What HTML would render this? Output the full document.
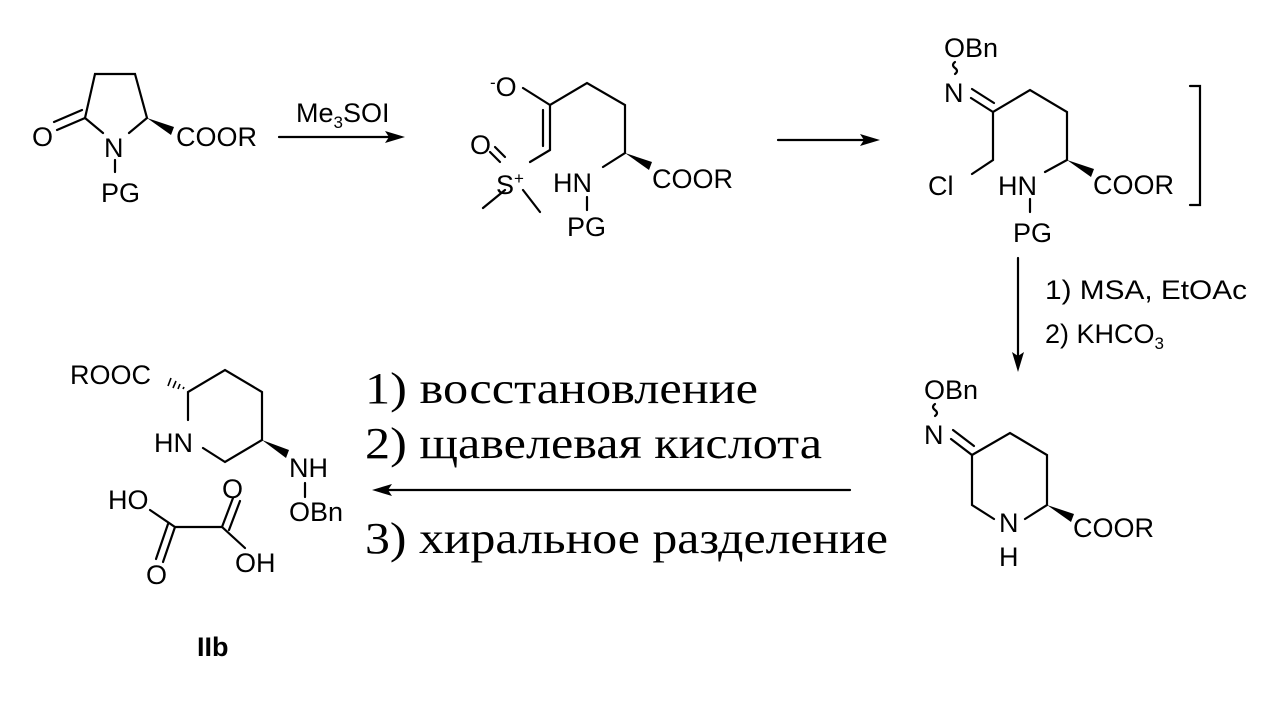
<!DOCTYPE html>
<html><head><meta charset="utf-8"><style>
html,body{margin:0;padding:0;background:#fff;}
svg{display:block;}
text{font-family:"Liberation Sans",sans-serif;font-size:27px;fill:#000;}
.s{font-family:"Liberation Serif",serif;font-size:44px;}
</style></head><body>
<svg width="1288" height="703" viewBox="0 0 1288 703" xmlns="http://www.w3.org/2000/svg">
<g stroke="#000" stroke-width="2.2" fill="none" stroke-linecap="round">
<path d="M85,118 L95,74 L135,74 L147,118 L129,133"/>
<path d="M85,118 L103,133"/>
<path d="M85,118 L57,130 M82,110 L54,122"/>
<path d="M115,160 L115,172"/>
<path d="M279,137 L395,137"/>
<path d="M523,88 L550,105 L587,83 L625,105 L625,153 L603,167"/>
<path d="M550,105 L550,150 M543,110 L543,146"/>
<path d="M550,150 L530,162"/>
<path d="M500,162 L490,152 M505,157 L495,147"/>
<path d="M505,190 L483,208 M523,190 L540,212"/>
<path d="M587,197 L587,210"/>
<path d="M778,140 L870,140"/>
<path d="M971,98 L993,112 L1030,90 L1067,112 L1067,160 L1045,172"/>
<path d="M972,89 L994,103"/>
<path d="M993,112 L993,160 L972,174"/>
<path d="M1030,199 L1030,212"/>
<path d="M955,62 q-4,3 0,6 q4,3 0,6"/>
<path d="M1190,86 L1200,86 L1200,205 L1190,205"/>
<path d="M1018,258 L1018,360"/>
<path d="M951,439 L972,455 L1010,433 L1047,455 L1047,505 L1025,519"/>
<path d="M953,430 L974,446"/>
<path d="M972,455 L972,505 L994,519"/>
<path d="M935,404 q-4,3 0,6 q4,3 0,6"/>
<path d="M850,490 L385,490"/>
<path d="M188,420 L188,392 L225,370 L262,392 L262,440 L225,462 L203,448"/>
<path d="M305,483 L305,497"/>
<path d="M150,510 L175,527 L222,527 L245,548"/>
<path d="M175,527 L163,562 M168,524 L156,559"/>
<path d="M222,527 L233,498 M229,530 L240,501"/>
</g>
<g fill="#000">
<polygon points="147,118 174,127 171,135"/>
<polygon points="625,153 652,162 649,170"/>
<polygon points="1067,160 1094,169 1091,177"/>
<polygon points="1047,505 1074,514 1071,522"/>
<polygon points="262,440 289,450 286,458"/>
<polygon points="405,137 385,131 389,137 385,143"/>
<polygon points="880,140 860,134 864,140 860,146"/>
<polygon points="1018,372 1012,352 1018,356 1024,352"/>
<polygon points="372,490 392,484 388,490 392,496"/>
</g>
<g stroke="#000" stroke-width="1.6">
<path d="M183,389 L184,387 M178,389 L180,384 M173,388 L176,381 M168,386 L171,378"/>
</g>
<text x="32" y="146">O</text>
<text x="104" y="157">N</text>
<text x="101" y="202">PG</text>
<text x="176" y="146">COOR</text>
<text x="296" y="122">Me<tspan font-size="17" dy="6">3</tspan><tspan dy="-6">SOI</tspan></text>
<text x="490" y="96"><tspan font-size="17" dy="-8">-</tspan><tspan dy="8">O</tspan></text>
<text x="470" y="154">O</text>
<text x="496" y="194">S<tspan font-size="17" dy="-10">+</tspan></text>
<text x="553" y="192">HN</text>
<text x="567" y="236">PG</text>
<text x="652" y="188">COOR</text>
<text x="944" y="57">OBn</text>
<text x="944" y="102">N</text>
<text x="928" y="195">Cl</text>
<text x="998" y="195">HN</text>
<text x="1013" y="242">PG</text>
<text x="1093" y="194">COOR</text>
<text x="1045" y="299" textLength="202" lengthAdjust="spacingAndGlyphs">1) MSA, EtOAc</text>
<text x="1045" y="343">2) KHCO<tspan font-size="17" dy="6">3</tspan></text>
<text x="924" y="399">OBn</text>
<text x="924" y="444">N</text>
<text x="999" y="532">N</text>
<text x="999" y="566">H</text>
<text x="1073" y="537">COOR</text>
<text x="70" y="384">ROOC</text>
<text x="154" y="452">HN</text>
<text x="289" y="477">NH</text>
<text x="289" y="521">OBn</text>
<text x="108" y="509">HO</text>
<text x="222" y="498">O</text>
<text x="146" y="584">O</text>
<text x="235" y="572">OH</text>
<text x="197" y="656" font-weight="bold" font-size="26">IIb</text>
<text class="s" x="365" y="403" textLength="393" lengthAdjust="spacingAndGlyphs">1) восстановление</text>
<text class="s" x="365" y="458" textLength="457" lengthAdjust="spacingAndGlyphs">2) щавелевая кислота</text>
<text class="s" x="365" y="553" textLength="523" lengthAdjust="spacingAndGlyphs">3) хиральное разделение</text>
</svg>
</body></html>
